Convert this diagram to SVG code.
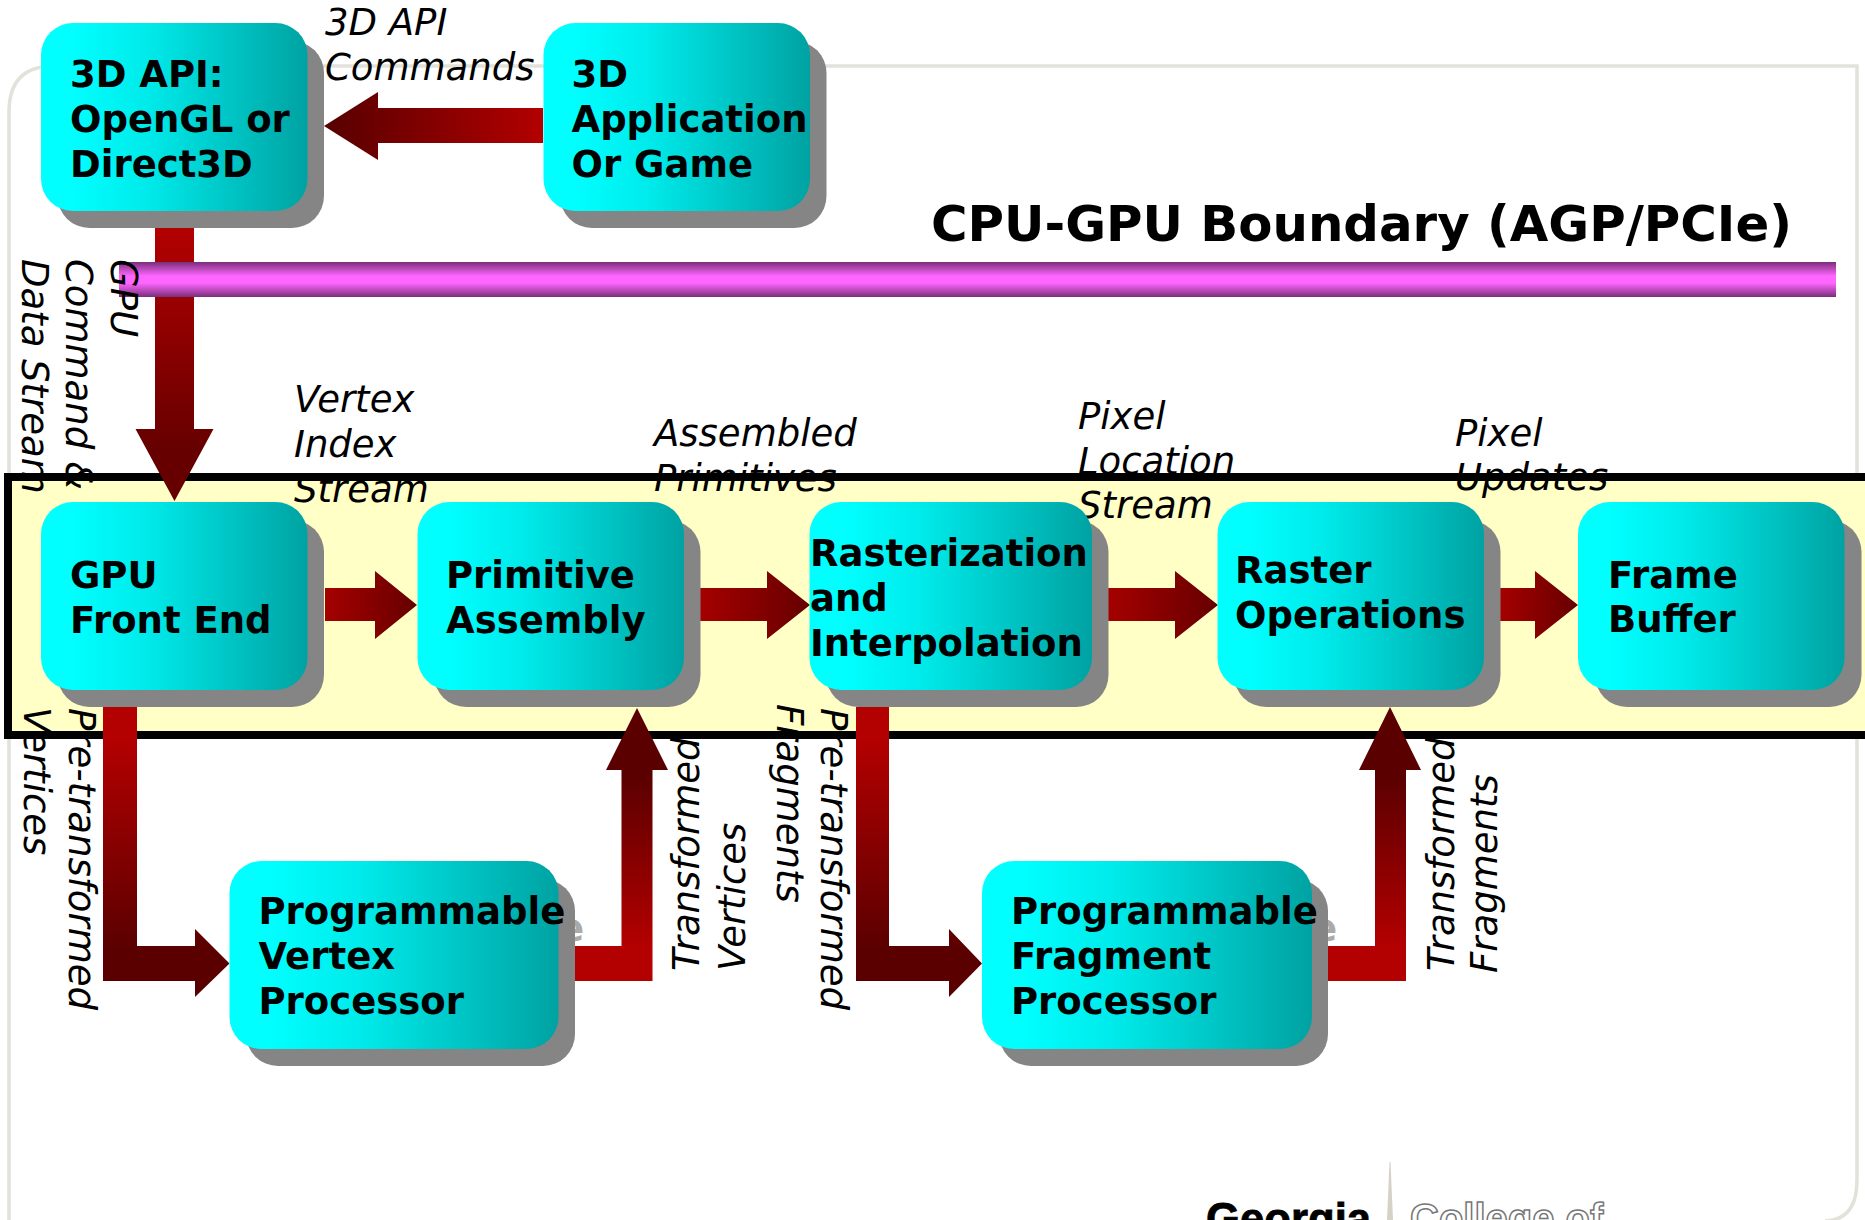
<svg xmlns="http://www.w3.org/2000/svg" width="1865" height="1220" viewBox="0 0 1865 1220">
<style>
.box{fill:url(#boxGrad)}
.shadow{fill:#858585}
.ghost{font:bold 37px "DejaVu Sans",Verdana,sans-serif;fill:#aaaaaa;text-anchor:end}
.node{font:bold 37px "DejaVu Sans",Verdana,sans-serif;fill:#000}
.lab{font:italic 37px "DejaVu Sans",Verdana,sans-serif;fill:#000}
.title{font:bold 49.800px "DejaVu Sans",Verdana,sans-serif;fill:#000}
</style>
<defs>
<linearGradient id="boxGrad" x1="0" y1="0" x2="1" y2="0"><stop offset="0.12" stop-color="#00ffff"/><stop offset="0.4" stop-color="#00eaea"/><stop offset="1" stop-color="#00a2a2"/></linearGradient>
<linearGradient id="barGrad" x1="0" y1="0" x2="0" y2="1"><stop offset="0" stop-color="#7a2e7a"/><stop offset="0.4" stop-color="#ff66ff"/><stop offset="0.6" stop-color="#ff66ff"/><stop offset="1" stop-color="#7a2e7a"/></linearGradient>
<linearGradient id="arrH" x1="0" y1="0" x2="1" y2="0"><stop offset="0" stop-color="#a50000"/><stop offset="1" stop-color="#660000"/></linearGradient>
<linearGradient id="arrL" gradientUnits="userSpaceOnUse" x1="543" y1="0" x2="324" y2="0"><stop offset="0" stop-color="#b30000"/><stop offset="1" stop-color="#560000"/></linearGradient>
<linearGradient id="arrD" gradientUnits="userSpaceOnUse" x1="0" y1="228" x2="0" y2="450"><stop offset="0" stop-color="#b30000"/><stop offset="1" stop-color="#660000"/></linearGradient>
<linearGradient id="elbD" gradientUnits="userSpaceOnUse" x1="0" y1="740" x2="0" y2="950"><stop offset="0" stop-color="#b30000"/><stop offset="1" stop-color="#5a0000"/></linearGradient>
<linearGradient id="elbU" gradientUnits="userSpaceOnUse" x1="0" y1="946" x2="0" y2="775"><stop offset="0" stop-color="#b30000"/><stop offset="1" stop-color="#5a0000"/></linearGradient>
<clipPath id="clipData"><rect x="0" y="250" width="120" height="243"/></clipPath>
<clipPath id="clipTrans"><rect x="600" y="739" width="1000" height="300"/></clipPath>
</defs>
<rect width="1865" height="1220" fill="#fff"/>
<g id="background">
<path d="M9,1225 V112 Q9,66 54,66 H1857 V1180 Q1857,1220 1825,1221" fill="#fff" stroke="#e2e2da" stroke-width="3.500"/>
<polygon points="1389.500,1162 1390.500,1162 1393,1220 1387,1220" fill="#d6d2c6"/>
<text x="1206" y="1234" style="font:bold 43.700px 'Liberation Sans',Arial,sans-serif" fill="#000" stroke="#000" stroke-width="0.800">Georgia</text>
<text x="1410" y="1232" style="font:bold 40px 'Liberation Sans',Arial,sans-serif" fill="#fff" stroke="#777" stroke-width="1.500">College of</text>
</g>
<rect id="band-fill" x="8" y="477" width="1870" height="258" fill="#ffffc6"/>
<g id="labels">
<text class="lab" x="325" y="35">3D API</text>
<text class="lab" x="325" y="80">Commands</text>
<text class="lab" x="294" y="412">Vertex</text>
<text class="lab" x="294" y="457">Index</text>
<text class="lab" x="294" y="502">Stream</text>
<text class="lab" x="654" y="446">Assembled</text>
<text class="lab" x="654" y="491">Primitives</text>
<text class="lab" x="1078" y="429">Pixel</text>
<text class="lab" x="1078" y="474">Location</text>
<text class="lab" x="1078" y="518">Stream</text>
<text class="lab" x="1455" y="446">Pixel</text>
<text class="lab" x="1455" y="490">Updates</text>
<g clip-path="url(#clipData)">
<text class="lab" transform="translate(22 259) rotate(90)">Data Stream</text>
<text class="lab" transform="translate(66 259) rotate(90)">Command &amp;</text>
</g>
<text class="lab" transform="translate(69 708) rotate(90)">Pre-transformed</text>
<text class="lab" transform="translate(24 707) rotate(90)">Vertices</text>
<text class="lab" transform="translate(821 708) rotate(90)">Pre-transformed</text>
<text class="lab" transform="translate(777 704) rotate(90)">Fragments</text>
<g clip-path="url(#clipTrans)">
<text class="lab" transform="translate(699 971) rotate(-90)">Transformed</text>
<text class="lab" transform="translate(1454 971) rotate(-90)">Transformed</text>
</g>
<text class="lab" transform="translate(745 971) rotate(-90)">Vertices</text>
<text class="lab" transform="translate(1497 973) rotate(-90)">Fragments</text>
</g>
<rect id="band-frame" x="8" y="477" width="1870" height="258" fill="none" stroke="#000" stroke-width="8"/>
<g id="connectors">
<polygon fill="url(#arrL)" points="543,108 378,108 378,92 324,126 378,160 378,143 543,143"/>
<polygon fill="url(#arrD)" points="155,228 194,228 194,429 213.5,429 174.5,501 135.5,429 155,429"/>
<polygon fill="url(#arrH)" points="325,588 375,588 375,571 417,605 375,639 375,621 325,621"/>
<polygon fill="url(#arrH)" points="700,588 767,588 767,571 810,605 767,639 767,621 700,621"/>
<polygon fill="url(#arrH)" points="1108,588 1175,588 1175,571 1218,605 1175,639 1175,621 1108,621"/>
<polygon fill="url(#arrH)" points="1500,588 1535,588 1535,571 1578,605 1535,639 1535,621 1500,621"/>
<polygon fill="url(#elbD)" points="103,707 137,707 137,946 195,946 195,929 229.5,963.5 195,997 195,981 103,981"/>
<polygon fill="url(#elbU)" points="575,946 621.5,946 621.5,770 606,770 637,708 668,770 652.5,770 652.5,981 575,981"/>
<polygon fill="url(#elbD)" points="856,707 889,707 889,946 949,946 949,929 982,963.5 949,997 949,981 856,981"/>
<polygon fill="url(#elbU)" points="1328,946 1375,946 1375,770 1359,770 1390,707 1421,770 1406,770 1406,981 1328,981"/>
</g>
<g id="boundary">
<rect x="119" y="262" width="1717" height="35" fill="url(#barGrad)"/>
<text class="title" x="931" y="241">CPU-GPU Boundary (AGP/PCIe)</text>
<text class="lab" transform="translate(111 259) rotate(90)">GPU</text>
</g>
<g id="node-3d-api"><rect class="shadow" x="57.500" y="41" width="266.500" height="187" rx="32"/><rect class="box" x="41" y="23" width="266.500" height="188" rx="32"/><text class="node" x="70" y="87">3D API:</text><text class="node" x="70" y="132">OpenGL or</text><text class="node" x="70" y="177">Direct3D</text></g>
<g id="node-3d-app"><rect class="shadow" x="560" y="41" width="266.500" height="187" rx="32"/><rect class="box" x="543.500" y="23" width="266.500" height="188" rx="32"/><text class="node" x="571.500" y="87">3D</text><text class="node" x="571.500" y="132">Application</text><text class="node" x="571.500" y="177">Or Game</text></g>
<g id="node-front-end"><rect class="shadow" x="57.500" y="520" width="266.500" height="187" rx="32"/><rect class="box" x="41" y="502" width="266.500" height="188" rx="32"/><text class="node" x="70" y="588">GPU</text><text class="node" x="70" y="633">Front End</text></g>
<g id="node-primitive"><rect class="shadow" x="434" y="520" width="266.500" height="187" rx="32"/><rect class="box" x="417.500" y="502" width="266.500" height="188" rx="32"/><text class="node" x="446" y="588">Primitive</text><text class="node" x="446" y="633">Assembly</text></g>
<g id="node-raster"><rect class="shadow" x="826" y="520" width="282.500" height="187" rx="32"/><rect class="box" x="809.500" y="502" width="282.500" height="188" rx="32"/><text class="node" x="810" y="566">Rasterization</text><text class="node" x="810" y="611">and</text><text class="node" x="810" y="656">Interpolation</text></g>
<g id="node-raster-ops"><rect class="shadow" x="1234" y="520" width="266.500" height="187" rx="32"/><rect class="box" x="1217.500" y="502" width="266.500" height="188" rx="32"/><text class="node" x="1235" y="583">Raster</text><text class="node" x="1235" y="628">Operations</text></g>
<g id="node-frame-buffer"><rect class="shadow" x="1595" y="520" width="266.500" height="187" rx="32"/><rect class="box" x="1578" y="502" width="266.500" height="188" rx="32"/><text class="node" x="1608" y="588">Frame</text><text class="node" x="1608" y="632">Buffer</text></g>
<g id="node-vertex"><text class="ghost" x="584" y="941">e</text><rect class="shadow" x="246" y="879" width="329" height="187" rx="32"/><rect class="box" x="229.500" y="861" width="329" height="188" rx="32"/><text class="node" x="258.500" y="924">Programmable</text><text class="node" x="258.500" y="969">Vertex</text><text class="node" x="258.500" y="1014">Processor</text></g>
<g id="node-fragment"><text class="ghost" x="1337" y="941">e</text><rect class="shadow" x="999" y="879" width="329" height="187" rx="32"/><rect class="box" x="982" y="861" width="330" height="188" rx="32"/><text class="node" x="1011" y="924">Programmable</text><text class="node" x="1011" y="969">Fragment</text><text class="node" x="1011" y="1014">Processor</text></g>
</svg>
